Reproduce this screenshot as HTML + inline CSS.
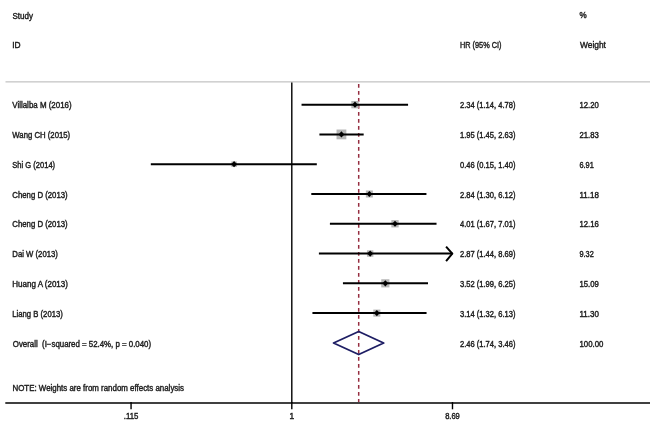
<!DOCTYPE html>
<html><head><meta charset="utf-8"><style>
html,body{margin:0;padding:0;background:#fff;}
svg{display:block;will-change:transform;}
text{font-family:"Liberation Sans",sans-serif;fill:#1c1c1c;stroke:#1c1c1c;stroke-width:0.4px;}
</style></head><body>
<svg width="650" height="424" viewBox="0 0 650 424">
<rect width="650" height="424" fill="#fff"/>
<text x="12.5" y="18.90" font-size="8.4" textLength="20.5" lengthAdjust="spacingAndGlyphs">Study</text>
<text x="579.5" y="18.30" font-size="8.4" textLength="7.2" lengthAdjust="spacingAndGlyphs">%</text>
<text x="12.3" y="48.10" font-size="8.4">ID</text>
<text x="460.0" y="48.20" font-size="8.4" textLength="41.5" lengthAdjust="spacingAndGlyphs">HR (95% CI)</text>
<text x="580.0" y="48.20" font-size="8.4" textLength="25.9" lengthAdjust="spacingAndGlyphs">Weight</text>
<line x1="5.5" y1="81.9" x2="650" y2="81.9" stroke="#b4b4b4" stroke-width="1"/>
<line x1="291.8" y1="82.5" x2="291.8" y2="403" stroke="#000" stroke-width="1.4"/>
<line x1="358.70" y1="84" x2="358.70" y2="402" stroke="#962e40" stroke-width="1.5" stroke-dasharray="3.7 3.3"/>
<text x="12.3" y="108.00" font-size="8.4" textLength="59.3" lengthAdjust="spacingAndGlyphs">Villalba M (2016)</text>
<text x="460.0" y="108.00" font-size="8.4" textLength="55.4" lengthAdjust="spacingAndGlyphs">2.34 (1.14, 4.78)</text>
<text x="579.5" y="108.00" font-size="8.4" textLength="19.4" lengthAdjust="spacingAndGlyphs">12.20</text>
<rect x="351.32" y="100.98" width="7.33" height="7.33" fill="#b6b6b6"/>
<line x1="301.54" y1="104.65" x2="408.07" y2="104.65" stroke="#000" stroke-width="2"/>
<polygon points="352.08,104.65 354.98,101.55 357.88,104.65 354.98,107.75" fill="#000"/>
<text x="12.3" y="137.86" font-size="8.4" textLength="57.9" lengthAdjust="spacingAndGlyphs">Wang CH (2015)</text>
<text x="460.0" y="137.86" font-size="8.4" textLength="55.4" lengthAdjust="spacingAndGlyphs">1.95 (1.45, 2.63)</text>
<text x="579.5" y="137.86" font-size="8.4" textLength="19.4" lengthAdjust="spacingAndGlyphs">21.83</text>
<rect x="336.53" y="129.52" width="9.81" height="9.81" fill="#b6b6b6"/>
<line x1="319.41" y1="134.43" x2="363.67" y2="134.43" stroke="#000" stroke-width="2"/>
<polygon points="338.53,134.43 341.43,131.33 344.33,134.43 341.43,137.53" fill="#000"/>
<text x="12.3" y="167.72" font-size="8.4" textLength="42.8" lengthAdjust="spacingAndGlyphs">Shi G (2014)</text>
<text x="460.0" y="167.72" font-size="8.4" textLength="55.4" lengthAdjust="spacingAndGlyphs">0.46 (0.15, 1.40)</text>
<text x="579.5" y="167.72" font-size="8.4" textLength="14.3" lengthAdjust="spacingAndGlyphs">6.91</text>
<rect x="231.33" y="161.45" width="5.52" height="5.52" fill="#b6b6b6"/>
<line x1="150.81" y1="164.21" x2="316.81" y2="164.21" stroke="#000" stroke-width="2"/>
<polygon points="231.19,164.21 234.09,161.11 236.99,164.21 234.09,167.31" fill="#000"/>
<text x="12.3" y="197.58" font-size="8.4" textLength="55.4" lengthAdjust="spacingAndGlyphs">Cheng D (2013)</text>
<text x="460.0" y="197.58" font-size="8.4" textLength="55.4" lengthAdjust="spacingAndGlyphs">2.84 (1.30, 6.12)</text>
<text x="579.5" y="197.58" font-size="8.4" textLength="19.4" lengthAdjust="spacingAndGlyphs">11.18</text>
<rect x="365.86" y="190.48" width="7.02" height="7.02" fill="#b6b6b6"/>
<line x1="311.30" y1="193.99" x2="426.44" y2="193.99" stroke="#000" stroke-width="2"/>
<polygon points="366.48,193.99 369.38,190.89 372.28,193.99 369.38,197.09" fill="#000"/>
<text x="12.3" y="227.44" font-size="8.4" textLength="55.4" lengthAdjust="spacingAndGlyphs">Cheng D (2013)</text>
<text x="460.0" y="227.44" font-size="8.4" textLength="55.4" lengthAdjust="spacingAndGlyphs">4.01 (1.67, 7.01)</text>
<text x="579.5" y="227.44" font-size="8.4" textLength="19.4" lengthAdjust="spacingAndGlyphs">12.16</text>
<rect x="391.35" y="220.11" width="7.32" height="7.32" fill="#b6b6b6"/>
<line x1="329.91" y1="223.77" x2="436.53" y2="223.77" stroke="#000" stroke-width="2"/>
<polygon points="392.11,223.77 395.01,220.67 397.91,223.77 395.01,226.87" fill="#000"/>
<text x="12.3" y="257.30" font-size="8.4" textLength="45.6" lengthAdjust="spacingAndGlyphs">Dai W (2013)</text>
<text x="460.0" y="257.30" font-size="8.4" textLength="55.4" lengthAdjust="spacingAndGlyphs">2.87 (1.44, 8.69)</text>
<text x="579.5" y="257.30" font-size="8.4" textLength="14.3" lengthAdjust="spacingAndGlyphs">9.32</text>
<rect x="366.95" y="250.34" width="6.41" height="6.41" fill="#b6b6b6"/>
<line x1="318.90" y1="253.55" x2="452.49" y2="253.55" stroke="#000" stroke-width="2"/>
<polyline points="446.09,246.55 452.29,253.65 446.09,261.05" fill="none" stroke="#000" stroke-width="2" stroke-linejoin="round"/>
<polygon points="367.26,253.55 370.16,250.45 373.06,253.55 370.16,256.65" fill="#000"/>
<text x="12.3" y="287.16" font-size="8.4" textLength="55.6" lengthAdjust="spacingAndGlyphs">Huang A (2013)</text>
<text x="460.0" y="287.16" font-size="8.4" textLength="55.4" lengthAdjust="spacingAndGlyphs">3.52 (1.99, 6.25)</text>
<text x="579.5" y="287.16" font-size="8.4" textLength="19.4" lengthAdjust="spacingAndGlyphs">15.09</text>
<rect x="381.25" y="279.25" width="8.16" height="8.16" fill="#b6b6b6"/>
<line x1="342.94" y1="283.33" x2="428.00" y2="283.33" stroke="#000" stroke-width="2"/>
<polygon points="382.43,283.33 385.33,280.23 388.23,283.33 385.33,286.43" fill="#000"/>
<text x="12.3" y="317.02" font-size="8.4" textLength="50.5" lengthAdjust="spacingAndGlyphs">Liang B (2013)</text>
<text x="460.0" y="317.02" font-size="8.4" textLength="55.4" lengthAdjust="spacingAndGlyphs">3.14 (1.32, 6.13)</text>
<text x="579.5" y="317.02" font-size="8.4" textLength="19.4" lengthAdjust="spacingAndGlyphs">11.30</text>
<rect x="373.31" y="309.58" width="7.06" height="7.06" fill="#b6b6b6"/>
<line x1="312.43" y1="313.11" x2="426.56" y2="313.11" stroke="#000" stroke-width="2"/>
<polygon points="373.94,313.11 376.84,310.01 379.74,313.11 376.84,316.21" fill="#000"/>
<text x="12.8" y="346.88" font-size="8.4" textLength="138.3" lengthAdjust="spacingAndGlyphs">Overall&#160;&#160;(I−squared = 52.4%, p = 0.040)</text>
<text x="460.0" y="346.88" font-size="8.4" textLength="55.4" lengthAdjust="spacingAndGlyphs">2.46 (1.74, 3.46)</text>
<text x="579.5" y="346.88" font-size="8.4" textLength="23.9" lengthAdjust="spacingAndGlyphs">100.00</text>
<polygon points="333.56,342.99 358.70,331.49 383.65,342.99 358.70,354.49" fill="none" stroke="#1e1e64" stroke-width="1.9" stroke-linejoin="round"/>
<text x="12.5" y="391.00" font-size="8.4" textLength="171.5" lengthAdjust="spacingAndGlyphs">NOTE: Weights are from random effects analysis</text>
<line x1="5.3" y1="402.9" x2="650" y2="402.9" stroke="#000" stroke-width="1.5"/>
<line x1="131.06" y1="402" x2="131.06" y2="409.3" stroke="#000" stroke-width="1.4"/>
<text x="131.06" y="418.8" font-size="8.4" text-anchor="middle" textLength="14.6" lengthAdjust="spacingAndGlyphs">.115</text>
<line x1="291.80" y1="402" x2="291.80" y2="409.3" stroke="#000" stroke-width="1.4"/>
<text x="291.80" y="418.8" font-size="8.4" text-anchor="middle">1</text>
<line x1="452.49" y1="402" x2="452.49" y2="409.3" stroke="#000" stroke-width="1.4"/>
<text x="452.49" y="418.8" font-size="8.4" text-anchor="middle" textLength="14.7" lengthAdjust="spacingAndGlyphs">8.69</text>
</svg>
</body></html>
